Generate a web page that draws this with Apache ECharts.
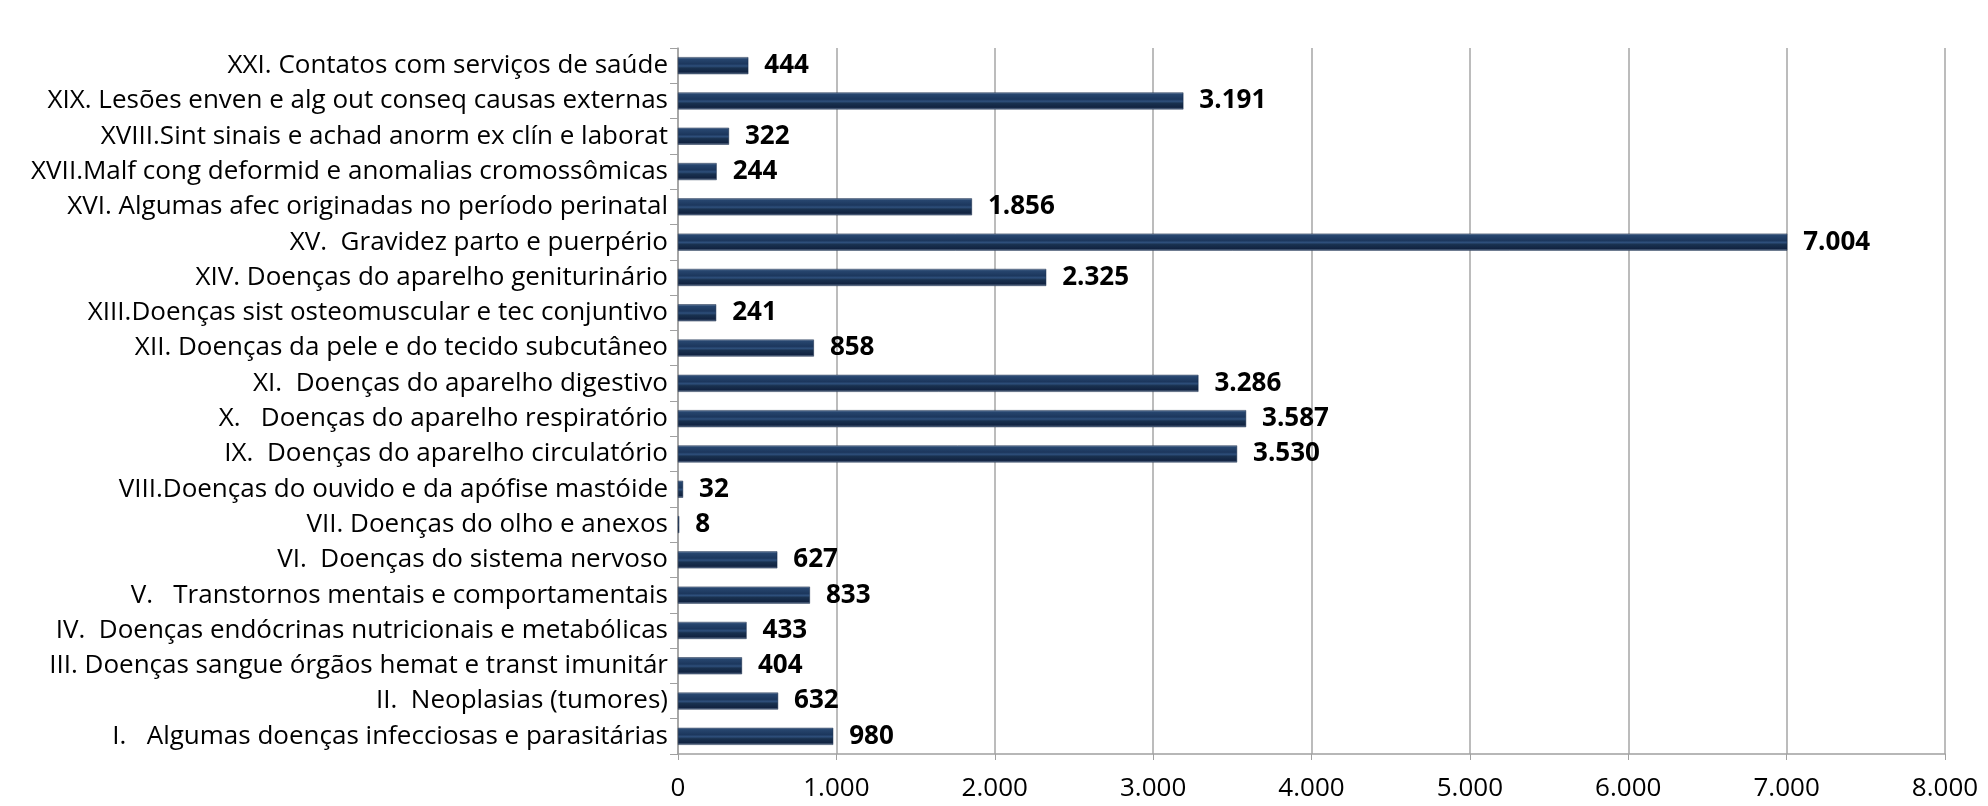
<!DOCTYPE html>
<html>
<head>
<meta charset="utf-8">
<script src="https://cdn.jsdelivr.net/npm/echarts@6/dist/echarts.min.js"></script>
<style>
html,body{margin:0;padding:0;background:#fff;}
#chart{width:1988px;height:806px;}
</style>
</head>
<body>
<div id="chart"></div>
<script>
const categories = [
  "I.   Algumas doenças infecciosas e parasitárias",
  "II.  Neoplasias (tumores)",
  "III. Doenças sangue órgãos hemat e transt imunitár",
  "IV.  Doenças endócrinas nutricionais e metabólicas",
  "V.   Transtornos mentais e comportamentais",
  "VI.  Doenças do sistema nervoso",
  "VII. Doenças do olho e anexos",
  "VIII.Doenças do ouvido e da apófise mastóide",
  "IX.  Doenças do aparelho circulatório",
  "X.   Doenças do aparelho respiratório",
  "XI.  Doenças do aparelho digestivo",
  "XII. Doenças da pele e do tecido subcutâneo",
  "XIII.Doenças sist osteomuscular e tec conjuntivo",
  "XIV. Doenças do aparelho geniturinário",
  "XV.  Gravidez parto e puerpério",
  "XVI. Algumas afec originadas no período perinatal",
  "XVII.Malf cong deformid e anomalias cromossômicas",
  "XVIII.Sint sinais e achad anorm ex clín e laborat",
  "XIX. Lesões enven e alg out conseq causas externas",
  "XXI. Contatos com serviços de saúde"
];
const values = [980, 632, 404, 433, 833, 627, 8, 32, 3530, 3587, 3286, 858, 241, 2325, 7004, 1856, 244, 322, 3191, 444];
const axisMin = 0, axisMax = 8000, axisStep = 1000;

function fmt(v){ return String(v).replace(/\B(?=(\d{3})+(?!\d))/g, '.'); }

const chart = echarts.init(document.getElementById('chart'), null, {renderer:'canvas'});
const barGrad = new echarts.graphic.LinearGradient(0, 0, 0, 1, [
  {offset:0, color:'#8fa2bd'},
  {offset:0.1, color:'#27466f'},
  {offset:0.4, color:'#1c375d'},
  {offset:0.52, color:'#2e4f7b'},
  {offset:0.64, color:'#19314f'},
  {offset:0.88, color:'#112341'},
  {offset:1, color:'#7d8fa8'}
]);
chart.setOption({
  animation:false,
  backgroundColor:'#fff',
  grid:{left:678, right:43, top:48, bottom:52, containLabel:false},
  xAxis:{
    type:'value', min:axisMin, max:axisMax, interval:axisStep,
    axisLine:{show:true, lineStyle:{color:'#a0a0a0', width:1.5}},
    axisTick:{show:true, length:6, lineStyle:{color:'#a0a0a0'}},
    splitLine:{show:true, lineStyle:{color:'#a6a6a6', width:1.5}},
    axisLabel:{formatter:fmt, color:'#000', fontFamily:'Open Sans', fontSize:26, margin:22}
  },
  yAxis:{
    type:'category', data:categories,
    axisLine:{show:true, lineStyle:{color:'#a0a0a0', width:1.5}},
    axisTick:{show:true, length:8, lineStyle:{color:'#a0a0a0'}},
    axisLabel:{color:'#000', fontFamily:'Open Sans', fontSize:26, margin:10}
  },
  series:[{
    type:'bar', data:values, barWidth:17,
    itemStyle:{color:barGrad, borderColor:'#0f2240', borderWidth:0.5},
    label:{show:true, position:'right', distance:16, formatter:p=>fmt(p.value),
      color:'#000', fontFamily:'Open Sans', fontWeight:'bold', fontSize:26}
  }]
});
</script>
</body>
</html>
